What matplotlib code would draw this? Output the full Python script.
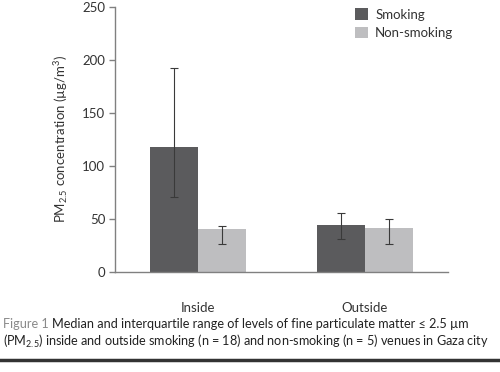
import matplotlib.pyplot as plt
import numpy as np

plt.rcParams['font.family'] = ['Lato', 'DejaVu Sans']
plt.rcParams['mathtext.default'] = 'regular'

locations = ['Inside', 'Outside']
smoking = [118, 44]
smoking_lo = [71, 31]
smoking_hi = [192, 56]
nonsmoking = [40, 41]
nonsmoking_lo = [26, 26]
nonsmoking_hi = [43, 50]

dark = '#5b5b5d'
light = '#bebec0'
axis_col = '#808080'
txt = '#333333'

fig = plt.figure(figsize=(5, 3.72), dpi=100)
ax = fig.add_axes([0.23, 0.269, 0.666, 0.713])

x = np.arange(len(locations))
w = 0.287
err_s = [np.array(smoking) - np.array(smoking_lo), np.array(smoking_hi) - np.array(smoking)]
err_n = [np.array(nonsmoking) - np.array(nonsmoking_lo), np.array(nonsmoking_hi) - np.array(nonsmoking)]
ekw = dict(ecolor='#3a3a3a', elinewidth=0.8, capsize=3, capthick=0.8)
ax.bar(x - w/2, smoking, w, color=dark, label='Smoking', yerr=err_s, error_kw=ekw)
ax.bar(x + w/2, nonsmoking, w, color=light, label='Non-smoking', yerr=err_n, error_kw=ekw)

ax.set_xlim(-0.5, 1.5)
ax.set_ylim(0, 250)
ax.set_yticks([0, 50, 100, 150, 200, 250])
ax.set_xticks(x)
ax.set_xticklabels(locations)
ax.tick_params(axis='x', length=0, pad=22, labelsize=9.5, labelcolor=txt)
ax.tick_params(axis='y', length=4, width=1, color=axis_col, labelsize=9.5, labelcolor=txt, pad=3)
for s in ['top', 'right']:
    ax.spines[s].set_visible(False)
for s in ['left', 'bottom']:
    ax.spines[s].set_color(axis_col)
    ax.spines[s].set_linewidth(1)
ax.set_ylabel('PM$_{2.5}$ concentration (µg/m$^3$)', fontsize=9.5, color=txt, labelpad=9)

ax.legend(loc='upper left', bbox_to_anchor=(350/500, 1 - 3/372), bbox_transform=fig.transFigure,
          frameon=False, handlelength=1.0, handleheight=1.0, fontsize=9.5, labelcolor=txt,
          handletextpad=0.5, labelspacing=0.45, borderaxespad=0)

# caption
fig.canvas.draw()
r = fig.canvas.get_renderer()
cap_fs = 9.1
t1 = fig.text(3/500, 1 - 324/372, 'Figure 1', fontsize=cap_fs, color='#8a8a8a', va='center')
bb = t1.get_window_extent(r)
fig.text((bb.x1 + 3)/500, 1 - 324/372,
         'Median and interquartile range of levels of fine particulate matter ≤ 2.5 µm',
         fontsize=cap_fs, color='#222222', va='center')
fig.text(3/500, 1 - 341/372,
         '(PM$_{2.5}$) inside and outside smoking (n = 18) and non-smoking (n = 5) venues in Gaza city',
         fontsize=cap_fs, color='#222222', va='center')
fig.add_artist(plt.Line2D([0, 1], [1 - 360/372, 1 - 360/372], transform=fig.transFigure,
                          color='#333333', lw=2.5))

fig.savefig('out.png', dpi=100)
